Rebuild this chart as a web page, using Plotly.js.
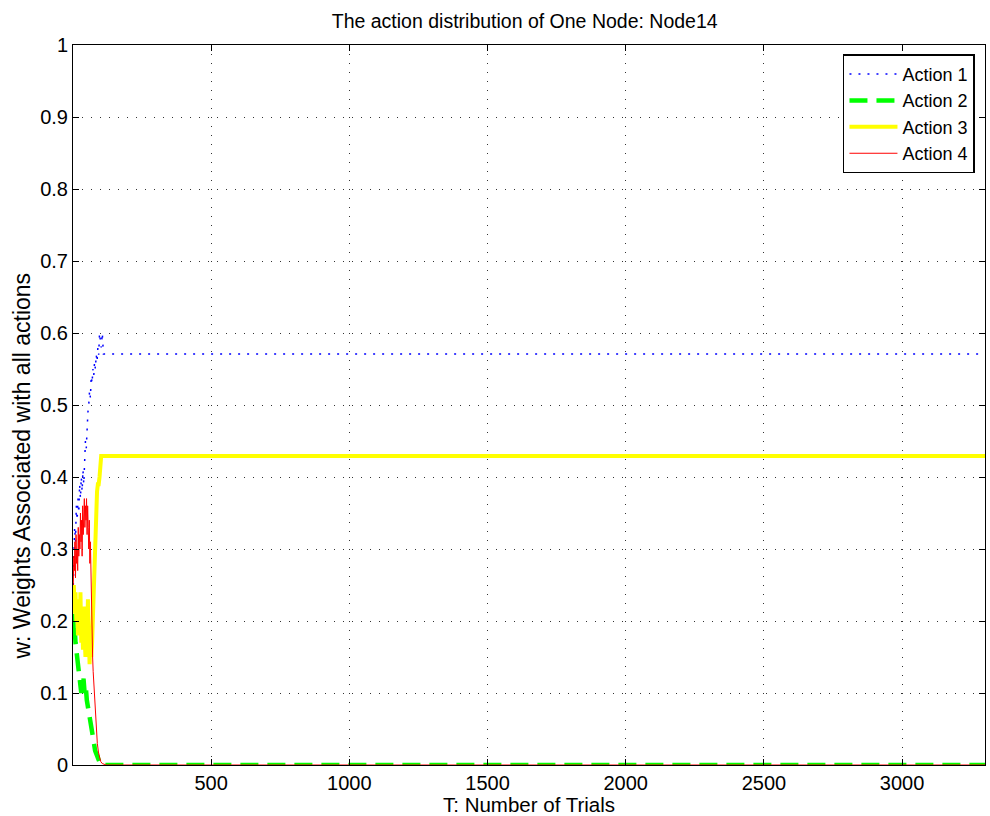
<!DOCTYPE html>
<html>
<head>
<meta charset="utf-8">
<script src="https://cdn.plot.ly/plotly-3.0.1.min.js"></script>
<style>html,body{margin:0;padding:0;background:#fff;}#chart{width:990px;height:816px;}</style>
</head>
<body>
<div id="chart"></div>
<script>
// ---- data ----
var seriesNames = ["Action 1", "Action 2", "Action 3", "Action 4"];
var xTickVals = [500, 1000, 1500, 2000, 2500, 3000];
var yTickVals = [0, 0.1, 0.2, 0.3, 0.4, 0.5, 0.6, 0.7, 0.8, 0.9, 1];

var action1X = [1, 3, 6, 9, 12, 15, 18, 21, 24, 27, 30, 33, 36, 39, 42, 45, 48, 51, 54, 57, 60, 63, 66, 69, 72, 75, 78, 81, 84, 87, 90, 93, 96, 99, 102, 106, 110, 3300];
var action1Y = [0.25, 0.30, 0.33, 0.31, 0.36, 0.34, 0.37, 0.35, 0.39, 0.37, 0.40, 0.38, 0.41, 0.39, 0.43, 0.45, 0.44, 0.47, 0.49, 0.50, 0.52, 0.51, 0.54, 0.53, 0.55, 0.54, 0.56, 0.55, 0.57, 0.56, 0.58, 0.57, 0.60, 0.59, 0.58, 0.60, 0.571, 0.571];

var action2X = [1, 3, 6, 9, 12, 15, 18, 22, 26, 30, 34, 38, 42, 46, 50, 55, 60, 64, 68, 72, 76, 80, 84, 88, 92, 96, 100, 104, 3300];
var action2Y = [0.21, 0.18, 0.19, 0.17, 0.16, 0.15, 0.13, 0.12, 0.11, 0.10, 0.11, 0.12, 0.10, 0.11, 0.09, 0.08, 0.07, 0.06, 0.05, 0.04, 0.03, 0.02, 0.015, 0.01, 0.005, 0.002, 0.0, 0.0, 0.0];

var action3X = [1, 3, 6, 9, 12, 15, 18, 21, 24, 27, 30, 33, 36, 39, 42, 45, 48, 51, 54, 57, 60, 63, 66, 69, 72, 75, 78, 81, 84, 87, 90, 93, 96, 99, 102, 106, 3300];
var action3Y = [0.22, 0.25, 0.21, 0.24, 0.20, 0.23, 0.18, 0.22, 0.19, 0.24, 0.17, 0.21, 0.16, 0.22, 0.18, 0.15, 0.20, 0.17, 0.23, 0.16, 0.14, 0.18, 0.15, 0.17, 0.21, 0.25, 0.29, 0.33, 0.36, 0.38, 0.39, 0.39, 0.40, 0.42, 0.429, 0.429, 0.429];

var action4X = [1, 3, 5, 7, 9, 11, 13, 15, 17, 19, 21, 23, 25, 27, 29, 31, 33, 35, 37, 39, 41, 43, 45, 47, 49, 51, 53, 55, 57, 59, 61, 63, 65, 67, 69, 71, 73, 76, 79, 82, 85, 88, 92, 96, 100, 106, 112, 120, 3300];
var action4Y = [0.25, 0.29, 0.27, 0.31, 0.26, 0.32, 0.28, 0.30, 0.27, 0.33, 0.29, 0.32, 0.30, 0.35, 0.31, 0.34, 0.29, 0.36, 0.32, 0.35, 0.37, 0.33, 0.36, 0.34, 0.37, 0.32, 0.36, 0.33, 0.30, 0.34, 0.28, 0.31, 0.26, 0.22, 0.18, 0.15, 0.13, 0.11, 0.085, 0.065, 0.045, 0.03, 0.018, 0.01, 0.005, 0.002, 0.001, 0.0, 0.0];

var FONT = "Liberation Sans, Arial, Helvetica, sans-serif";

var traces = [
  {x: action1X, y: action1Y, name: seriesNames[0], type: "scatter", mode: "lines",
   line: {color: "#0000ff", width: 1.5, dash: "2px,7px"}},
  {x: action2X, y: action2Y, name: seriesNames[1], type: "scatter", mode: "lines",
   line: {color: "#00ff00", width: 4.5, dash: "18px,9px"}},
  {x: action3X, y: action3Y, name: seriesNames[2], type: "scatter", mode: "lines",
   line: {color: "#ffff00", width: 4}},
  {x: action4X, y: action4Y, name: seriesNames[3], type: "scatter", mode: "lines",
   line: {color: "#ff0000", width: 1}}
];

var axisCommon = {
  showline: true, linecolor: "#000", linewidth: 1, mirror: "ticks",
  ticks: "inside", ticklen: 6, tickcolor: "#000", tickwidth: 1,
  showgrid: true, gridcolor: "#333", gridwidth: 1, griddash: "1px,8px",
  zeroline: false,
  tickfont: {family: FONT, size: 20, color: "#000"}
};

// trailing no-break spaces (kept by a final zero-width space) push the rotated label down, as in the reference
var yTitleText = "w: Weights Associated with all actions" + "\u00a0".repeat(19) + "\u200b";

var layout = {
  width: 990, height: 816,
  paper_bgcolor: "#fff", plot_bgcolor: "#fff",
  margin: {l: 73, r: 5, t: 45, b: 51, pad: 0},
  showlegend: true,
  title: {text: "The action distribution of One Node: Node14",
          font: {family: FONT, size: 19.5, color: "#000"},
          x: 0.53, xanchor: "center", y: 0.974, yref: "container", yanchor: "middle"},
  xaxis: Object.assign({}, axisCommon, {
    range: [0, 3300], tickmode: "array", tickvals: xTickVals,
    ticktext: xTickVals.map(String),
    title: {text: "T: Number of Trials", font: {family: FONT, size: 20.5, color: "#000"}, standoff: 0}
  }),
  yaxis: Object.assign({}, axisCommon, {
    range: [0, 1], tickmode: "array", tickvals: yTickVals,
    ticktext: yTickVals.map(String),
    title: {text: yTitleText, font: {family: FONT, size: 23, color: "#000"}, standoff: 3}
  }),
  legend: {
    x: 0.989, xanchor: "right", y: 0.987, yanchor: "top",
    bgcolor: "#fff", bordercolor: "#000", borderwidth: 1.5,
    font: {family: FONT, size: 18, color: "#000"},
    itemwidth: 48, tracegroupgap: 0
  }
};

Plotly.newPlot("chart", traces, layout, {displayModeBar: false, staticPlot: true});
</script>
</body>
</html>
